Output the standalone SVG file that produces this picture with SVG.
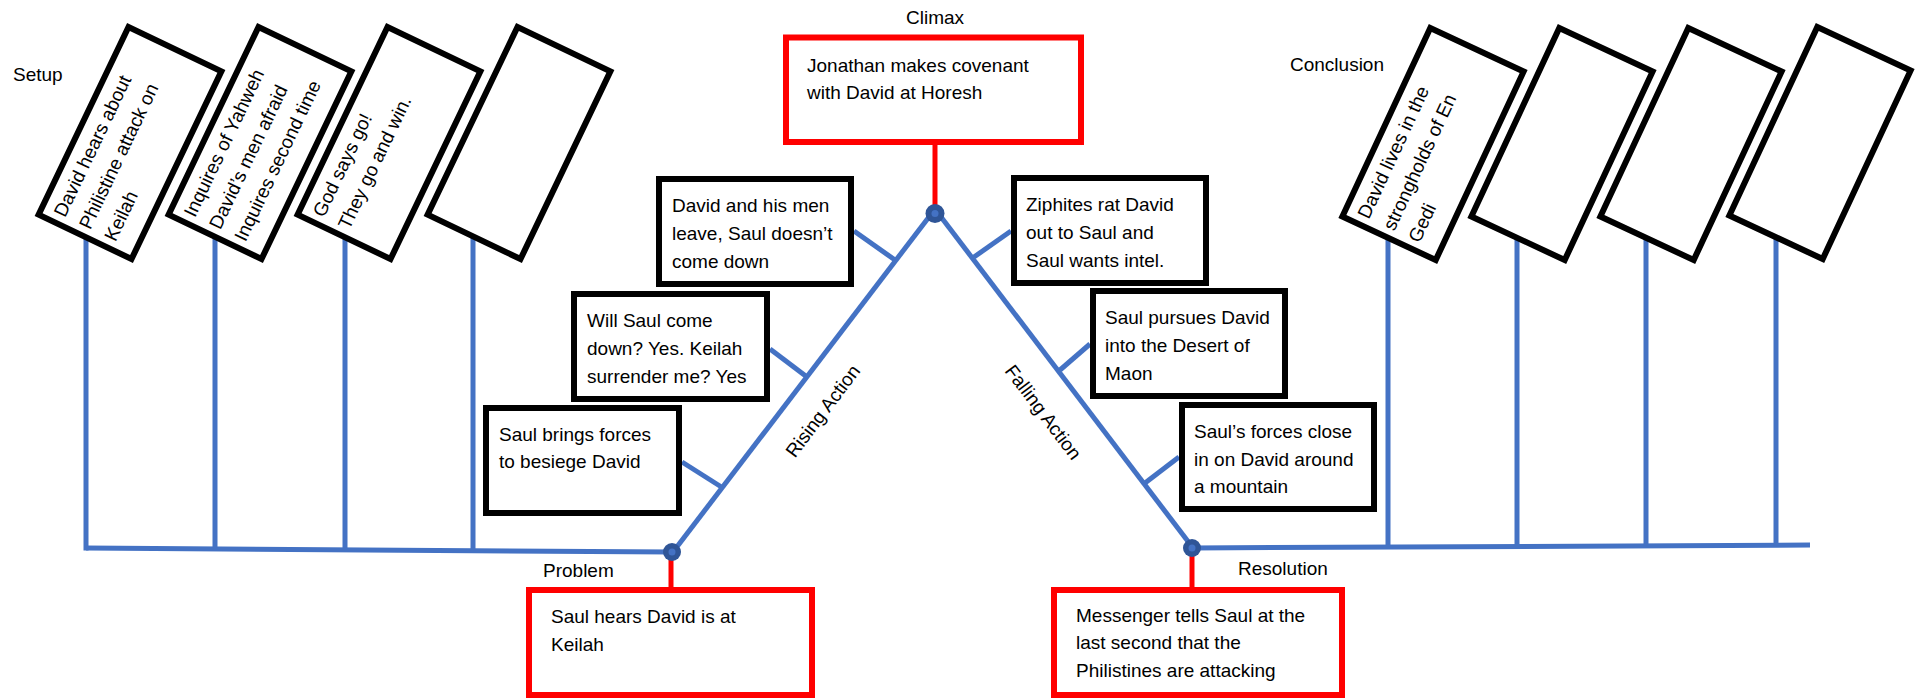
<svg xmlns="http://www.w3.org/2000/svg" width="1917" height="699" viewBox="0 0 1917 699">
<style>
text{font-family:"Liberation Sans",Arial,sans-serif;font-size:19px;fill:#000}
.bl{stroke:#4472C4;stroke-width:5;fill:none}
.rd{stroke:#FF0000;stroke-width:5;fill:none}
.bx{fill:#fff;stroke:#000;stroke-width:6}
.rbx{fill:#fff;stroke:#FF0000;stroke-width:6}
.pt{fill:#2F5597}
.ptc{fill:#4472C4}
</style>
<rect width="1917" height="699" fill="#fff"/>
<g id="connectors">
<line class="bl" x1="86" y1="548" x2="672" y2="552"/>
<line class="bl" x1="86" y1="220" x2="86" y2="550.5"/>
<line class="bl" x1="215" y1="220" x2="215" y2="549"/>
<line class="bl" x1="345" y1="220" x2="345" y2="550"/>
<line class="bl" x1="473" y1="220" x2="473" y2="550.6"/>
<line class="bl" x1="1192" y1="548" x2="1810" y2="545"/>
<line class="bl" x1="1388" y1="220" x2="1388" y2="547"/>
<line class="bl" x1="1517" y1="220" x2="1517" y2="546.4"/>
<line class="bl" x1="1646" y1="220" x2="1646" y2="545.8"/>
<line class="bl" x1="1776" y1="220" x2="1776" y2="545.2"/>
<line class="bl" x1="673" y1="552" x2="932" y2="213"/>
<line class="bl" x1="938" y1="213" x2="1193" y2="548"/>
<line class="bl" x1="854" y1="231" x2="895" y2="260"/>
<line class="bl" x1="770" y1="349" x2="807" y2="377"/>
<line class="bl" x1="682" y1="462" x2="723" y2="488"/>
<line class="bl" x1="1011" y1="231" x2="974" y2="257"/>
<line class="bl" x1="1090" y1="344" x2="1060" y2="370"/>
<line class="bl" x1="1179" y1="457" x2="1145" y2="483"/>
<line class="rd" x1="935" y1="142" x2="935" y2="210"/>
<line class="rd" x1="671" y1="555" x2="671" y2="590"/>
<line class="rd" x1="1192" y1="551" x2="1192" y2="590"/>
<circle class="pt" cx="935" cy="213.5" r="9.5"/><circle class="ptc" cx="935" cy="213.5" r="3.5"/>
<circle class="pt" cx="672" cy="552" r="9"/><circle class="ptc" cx="672" cy="552" r="3.5"/>
<circle class="pt" cx="1192" cy="548" r="9"/><circle class="ptc" cx="1192" cy="548" r="3.5"/>
</g>
<g id="labels">
<text x="13" y="81">Setup</text>
<text x="1290" y="71">Conclusion</text>
<text x="935" y="24" text-anchor="middle">Climax</text>
<text x="543" y="577">Problem</text>
<text x="1238" y="575">Resolution</text>
<text transform="translate(828,415) rotate(-53)" text-anchor="middle">Rising Action</text>
<text transform="translate(1038,416) rotate(53)" text-anchor="middle">Falling Action</text>
</g>
<g id="setup1" transform="translate(130,143) rotate(-64.4)">
<rect class="bx" x="-104" y="-51.5" width="208" height="103"/>
<text x="-96" y="-26">David hears about</text><text x="-96" y="2">Philistine attack on</text><text x="-96" y="30">Keilah</text>
</g>
<g id="setup2" transform="translate(260,143) rotate(-64.4)">
<rect class="bx" x="-104" y="-51.5" width="208" height="103"/>
<text x="-96" y="-26">Inquires of Yahweh</text><text x="-96" y="2">David’s men afraid</text><text x="-96" y="30">Inquires second time</text>
</g>
<g id="setup3" transform="translate(389,143) rotate(-64.4)">
<rect class="bx" x="-104" y="-51.5" width="208" height="103"/>
<text x="-96" y="-26">God says go!</text><text x="-96" y="2">They go and win.</text>
</g>
<g id="setup4" transform="translate(519,143) rotate(-64.4)">
<rect class="bx" x="-104" y="-51.5" width="208" height="103"/>
</g>
<g id="concl1" transform="translate(1433,144) rotate(-65)">
<rect class="bx" x="-104" y="-51.5" width="208" height="103"/>
<text x="-96" y="-26">David lives in the</text><text x="-96" y="2">strongholds of En</text><text x="-96" y="30">Gedi</text>
</g>
<g id="concl2" transform="translate(1562,144) rotate(-65)">
<rect class="bx" x="-104" y="-51.5" width="208" height="103"/>
</g>
<g id="concl3" transform="translate(1691,144) rotate(-65)">
<rect class="bx" x="-104" y="-51.5" width="208" height="103"/>
</g>
<g id="concl4" transform="translate(1820,143) rotate(-65)">
<rect class="bx" x="-104" y="-51.5" width="208" height="103"/>
</g>
<g id="climax">
<rect class="rbx" x="786" y="37.5" width="295" height="104.5"/>
<text x="807" y="72">Jonathan makes covenant</text><text x="807" y="99">with David at Horesh</text>
</g>
<g id="problem">
<rect class="rbx" x="529" y="590" width="283" height="105"/>
<text x="551" y="623">Saul hears David is at</text><text x="551" y="651">Keilah</text>
</g>
<g id="resolution">
<rect class="rbx" x="1054" y="590" width="288" height="105"/>
<text x="1076" y="622">Messenger tells Saul at the</text><text x="1076" y="649">last second that the</text><text x="1076" y="677">Philistines are attacking</text>
</g>
<g id="rise3">
<rect class="bx" x="659" y="179" width="192" height="105"/>
<text x="672" y="212">David and his men</text><text x="672" y="240">leave, Saul doesn’t</text><text x="672" y="268">come down</text>
</g>
<g id="rise2">
<rect class="bx" x="574" y="294" width="193" height="105"/>
<text x="587" y="327">Will Saul come</text><text x="587" y="355">down? Yes. Keilah</text><text x="587" y="383">surrender me? Yes</text>
</g>
<g id="rise1">
<rect class="bx" x="486" y="408" width="193" height="105"/>
<text x="499" y="441">Saul brings forces</text><text x="499" y="468">to besiege David</text>
</g>
<g id="fall1">
<rect class="bx" x="1014" y="178" width="192" height="105"/>
<text x="1026" y="211">Ziphites rat David</text><text x="1026" y="239">out to Saul and</text><text x="1026" y="267">Saul wants intel.</text>
</g>
<g id="fall2">
<rect class="bx" x="1093" y="291" width="192" height="105"/>
<text x="1105" y="324">Saul pursues David</text><text x="1105" y="352">into the Desert of</text><text x="1105" y="380">Maon</text>
</g>
<g id="fall3">
<rect class="bx" x="1182" y="405" width="192" height="104"/>
<text x="1194" y="438">Saul’s forces close</text><text x="1194" y="466">in on David around</text><text x="1194" y="493">a mountain</text>
</g>
</svg>
